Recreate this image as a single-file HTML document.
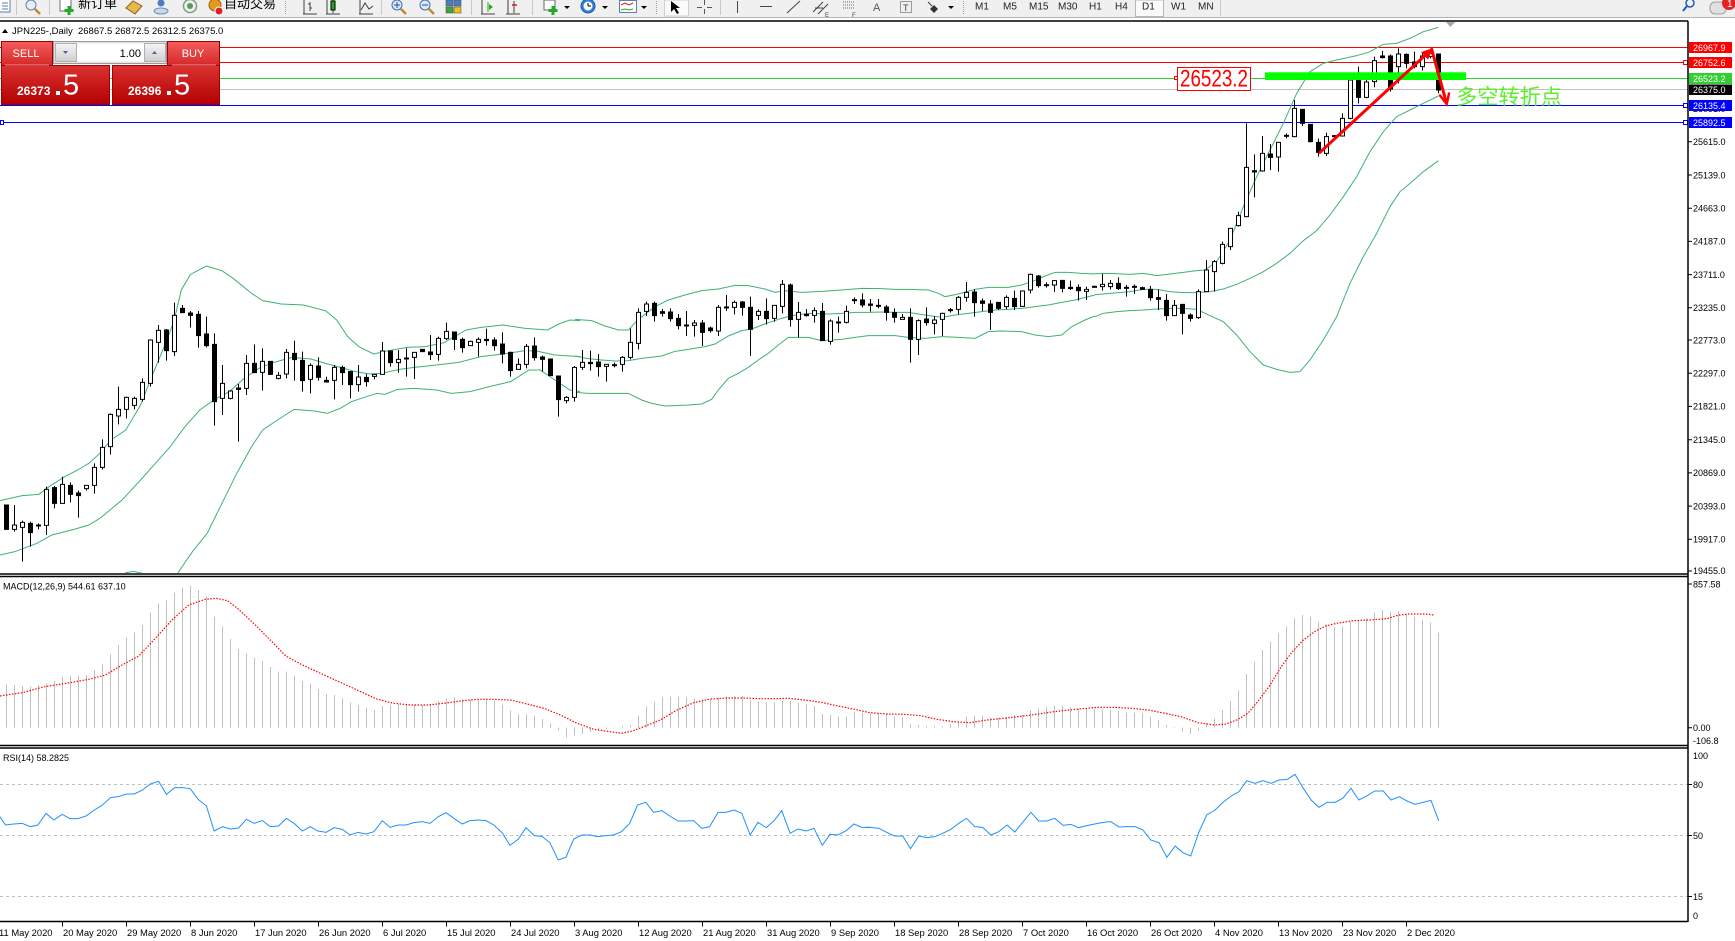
<!DOCTYPE html>
<html><head><meta charset="utf-8"><style>
html,body{margin:0;padding:0;background:#fff;overflow:hidden}
svg{display:block}
.t{font-family:"Liberation Sans",Arial,sans-serif}
.cj{font-family:"Liberation Sans","Noto Sans CJK SC","WenQuanYi Zen Hei",sans-serif}
.ns{vector-effect:non-scaling-stroke}
.cd path{stroke:#000;stroke-width:1;fill:none;vector-effect:non-scaling-stroke}
.cd rect{stroke:#000;stroke-width:1;vector-effect:non-scaling-stroke}
.cd .w{fill:#fff}.cd .b{fill:#000}
</style></head><body>
<svg width="1735" height="941" viewBox="0 0 1735 941" xmlns="http://www.w3.org/2000/svg">
<defs>
<clipPath id="cm"><rect x="0" y="22" width="1688" height="551"/></clipPath>
<clipPath id="cmacd"><rect x="0" y="577" width="1688" height="168"/></clipPath>
<clipPath id="crsi"><rect x="0" y="749" width="1688" height="172"/></clipPath>
<linearGradient id="gb" x1="0" y1="0" x2="0" y2="1"><stop offset="0" stop-color="#f45c5c"/><stop offset="1" stop-color="#d62828"/></linearGradient>
<linearGradient id="gp" x1="0" y1="0" x2="0" y2="1"><stop offset="0" stop-color="#dc3232"/><stop offset="1" stop-color="#b20000"/></linearGradient>
<linearGradient id="gg" x1="0" y1="0" x2="0" y2="1"><stop offset="0" stop-color="#f4f4f4"/><stop offset="1" stop-color="#cfcfcf"/></linearGradient>
</defs>
<rect width="1735" height="941" fill="#fff"/>

<!-- toolbar -->
<g>
<rect x="0" y="0" width="1735" height="17" fill="#f0f0f0"/>
<line x1="0" y1="17.5" x2="1735" y2="17.5" stroke="#b4b4b4"/>
<rect x="-1" y="-1" width="11" height="13" fill="#fff" stroke="#5a7fb0"/>
<path d="M2 3h6M2 6h6M2 9h6" stroke="#5a7fb0"/>
<line x1="16.5" y1="0" x2="16.5" y2="15" stroke="#c8c8c8"/>
<circle cx="31" cy="5" r="5" fill="#e6eef8" stroke="#6a7f9a"/><line x1="35" y1="9" x2="40" y2="14" stroke="#c08a30" stroke-width="2.5"/>
<line x1="49.5" y1="0" x2="49.5" y2="15" stroke="#c8c8c8"/>
<rect x="60" y="-1" width="11" height="12" fill="#fff" stroke="#707070"/><path d="M69 6v9M64.5 10.5h9" stroke="#22aa22" stroke-width="3"/>
<text class="cj" x="78" y="8" font-size="13" fill="#000">新订单</text>
<polygon points="126,8 133,1 142,6 135,14" fill="#e8b848" stroke="#8a6418"/>
<circle cx="161" cy="3" r="3.5" fill="#4a7ec0"/><ellipse cx="161" cy="11" rx="7" ry="3" fill="#c9d9ea" stroke="#6f8fb5"/>
<circle cx="190" cy="6" r="6.5" fill="none" stroke="#7aa07a" stroke-width="1.5"/><circle cx="190" cy="6" r="3" fill="#5a9a5a"/>
<circle cx="215" cy="5" r="6" fill="#e09a20" stroke="#a06010"/><circle cx="219" cy="11" r="4" fill="#e02020" stroke="#fff"/>
<text class="cj" x="224" y="8" font-size="13" fill="#000">自动交易</text>
<line x1="285.5" y1="1" x2="285.5" y2="15" stroke="#a0a0a0" stroke-dasharray="1 1"/>
<path d="M303 14h14M304 0v14M310 2v9M308 4h2M310 8h2" stroke="#404040" fill="none"/>
<path d="M326 14h14M327 0v14M333 0v13" stroke="#404040" fill="none"/><rect x="331" y="1" width="4" height="9" fill="#2a2" stroke="#000"/>
<path d="M359 14h14M360 0v14M361 10L365 3L369 9L373 6" stroke="#404040" fill="none"/>
<line x1="381.5" y1="0" x2="381.5" y2="15" stroke="#c8c8c8"/>
<circle cx="397" cy="5" r="5" fill="#dde9f7" stroke="#4070b0"/><path d="M394 5h6M397 2v6" stroke="#2050a0"/><path d="M401 9l5 5" stroke="#c08a30" stroke-width="2.5"/>
<circle cx="425" cy="5" r="5" fill="#dde9f7" stroke="#4070b0"/><path d="M422 5h6" stroke="#2050a0"/><path d="M429 9l5 5" stroke="#c08a30" stroke-width="2.5"/>
<rect x="446" y="0" width="7" height="6" fill="#4a7ec0" stroke="#555" stroke-width=".6"/><rect x="454" y="0" width="7" height="6" fill="#4a7ec0" stroke="#555" stroke-width=".6"/><rect x="446" y="7" width="7" height="6" fill="#38a838" stroke="#555" stroke-width=".6"/><rect x="454" y="7" width="7" height="6" fill="#f0c020" stroke="#555" stroke-width=".6"/>
<line x1="471.5" y1="0" x2="471.5" y2="15" stroke="#c8c8c8"/>
<path d="M481 14h14M482 0v14" stroke="#404040" fill="none"/><path d="M489 4l4 3l-4 3z" fill="#2a2"/><path d="M488 2v10" stroke="#2a2"/>
<path d="M506 14h14M508 0v14M514 1v12" stroke="#404040" fill="none"/><path d="M512 5h5" stroke="#d02020" stroke-width="1.5"/>
<line x1="532.5" y1="0" x2="532.5" y2="15" stroke="#c8c8c8"/>
<rect x="544" y="0" width="11" height="10" fill="#fff" stroke="#666"/><path d="M553 6v9M548.5 10.5h9" stroke="#2a2" stroke-width="3"/>
<polygon points="564,6 570,6 567,9" fill="#000"/>
<circle cx="588" cy="6" r="7" fill="#2f7fd8" stroke="#1a5aa8"/><circle cx="588" cy="6" r="4.5" fill="#fff"/><path d="M588 6V3M588 6h3" stroke="#000"/>
<polygon points="602,6 608,6 605,9" fill="#000"/>
<rect x="619.5" y="0.5" width="17" height="12" fill="#fff" stroke="#5a7fb0"/><path d="M621 5l4-2 4 2 4-2" stroke="#d02020" fill="none"/><path d="M621 10l4-1 4 1 4-1" stroke="#2a2" fill="none"/>
<polygon points="641,6 647,6 644,9" fill="#000"/>
<line x1="656.5" y1="1" x2="656.5" y2="15" stroke="#a0a0a0" stroke-dasharray="1 1"/>
<rect x="664.5" y="0" width="24" height="16" fill="#fafafa" stroke="#d0d0d0"/>
<polygon points="671,1 671,12 674,9 677,14 679,13 676,8 680,8" fill="#000"/>
<path d="M704.5 0v5M704.5 9v5M697 7.5h5M707 7.5h5" stroke="#555"/>
<line x1="720.5" y1="0" x2="720.5" y2="15" stroke="#c8c8c8"/>
<path d="M737.5 1v12" stroke="#444"/>
<path d="M760 6.5h12" stroke="#444"/>
<path d="M787 13L800 1" stroke="#444"/>
<path d="M813 12L823 2M818 14L828 4M815 8h8" stroke="#444"/><text class="t" x="825" y="17" font-size="6" fill="#444">E</text>
<path d="M843 2h12M843 5h12M843 8h12" stroke="#666" stroke-dasharray="1 1"/><text class="t" x="852" y="17" font-size="6" fill="#444">F</text>
<text class="t" x="873" y="11" font-size="11" fill="#555">A</text>
<rect x="900.5" y="1.5" width="11" height="11" fill="none" stroke="#444" stroke-dasharray="1 1"/><text class="t" x="903" y="11" font-size="9" fill="#444">T</text>
<path d="M928 2l4 4" stroke="#333"/><polygon points="934,5 938,9 934,13 930,9" fill="#333"/>
<polygon points="948,6 954,6 951,9" fill="#000"/>
<line x1="963.5" y1="1" x2="963.5" y2="15" stroke="#a0a0a0" stroke-dasharray="1 1"/>
<rect x="1135.5" y="0" width="28" height="16.5" fill="#fafafa" stroke="#b8b8b8"/>
<g class="t" font-size="10" fill="#222">
<text x="975" y="9.5">M1</text><text x="1003" y="9.5">M5</text><text x="1029" y="9.5">M15</text><text x="1058" y="9.5">M30</text><text x="1089" y="9.5">H1</text><text x="1115" y="9.5">H4</text><text x="1142" y="9.5">D1</text><text x="1171" y="9.5">W1</text><text x="1198" y="9.5">MN</text>
</g>
<line x1="1220.5" y1="0" x2="1220.5" y2="16" stroke="#c8c8c8"/>
<circle cx="1690" cy="3" r="4" fill="none" stroke="#1f5fb8" stroke-width="1.5"/><line x1="1687" y1="6" x2="1683" y2="11" stroke="#1f5fb8" stroke-width="2"/>
<rect x="1710" y="2" width="16" height="12" rx="5" fill="#e0e0e0" stroke="#a0a0a0"/>
<circle cx="1729" cy="3" r="7" fill="#e42222"/><text class="t" x="1727" y="7" font-size="10" fill="#fff">1</text>
</g>

<!-- frame lines -->
<line x1="0" y1="21" x2="1688" y2="21" stroke="#000" stroke-width="1.5"/>

<!-- main chart -->
<g clip-path="url(#cm)">
<line x1="0" y1="47.5" x2="1688" y2="47.5" stroke="#ff0000"/>
<line x1="0" y1="62.5" x2="1688" y2="62.5" stroke="#ff0000"/>
<line x1="0" y1="78.5" x2="1688" y2="78.5" stroke="#2fcf2f"/>
<line x1="0" y1="89.5" x2="1688" y2="89.5" stroke="#c0c0c0"/>
<line x1="0" y1="105.5" x2="1688" y2="105.5" stroke="#0000ff"/>
<line x1="0" y1="122.5" x2="1688" y2="122.5" stroke="#0000ff"/>
<rect x="1683.5" y="60.5" width="4" height="4" fill="#fff" stroke="#ff0000"/>
<rect x="1683.5" y="103.5" width="4" height="4" fill="#fff" stroke="#0000ff"/>
<rect x="1683.5" y="120.5" width="4" height="4" fill="#fff" stroke="#0000ff"/>
<rect x="0.5" y="120.5" width="3" height="4" fill="#fff" stroke="#0000ff"/>

<!-- bollinger bands -->
<g fill="none" stroke="#3cb371" stroke-width="1">
<g transform="translate(0,250) scale(0.36996,0.333333)">
<polyline class="ns" points="0,752 60,737 105,733 130,712 175,680 210,660 240,640 270,610 300,570 340,540 380,465 410,380 440,300 470,215 490,120 515,73 558,48 600,62 630,85 680,130 710,152 760,162 820,165 880,182 910,210 940,260 970,290 1010,312 1050,302 1100,292 1150,290 1200,278 1260,240 1300,232 1360,225 1420,235 1480,240 1510,222 1540,210 1568,212"/>
<polyline class="ns" points="0,915 40,905 100,880 140,855 200,838 240,825 270,805 330,750 380,690 420,640 460,590 500,530 540,480 580,448 620,425 660,385 700,355 740,337 790,322 840,327 880,340 920,352 960,365 1000,372 1030,370 1080,358 1120,352 1180,345 1240,337 1300,320 1360,312 1420,302 1450,303 1500,315 1568,320"/>
<polyline class="ns" points="300,1010 340,968 360,964 385,970 420,1000 470,990 480,970 520,905 560,850 600,760 640,670 680,590 710,540 750,510 795,478 850,483 885,490 920,475 950,455 990,440 1020,430 1040,433 1075,418 1120,415 1180,420 1220,430 1270,425 1330,408 1380,395 1430,360 1460,360 1500,390 1540,420 1568,425"/>
</g>
<g transform="translate(575,250) scale(0.333333)">
<polyline class="ns" points="0,208 50,212 90,228 130,240 160,240 190,208 240,170 280,150 330,135 380,122 430,117 480,106 520,107 570,117 600,127 630,122 680,127 740,124 800,120 860,115 920,116 960,118 1000,118 1060,120 1090,130 1110,140 1150,132 1200,118 1240,112 1300,112 1340,105 1370,95 1410,78 1440,67 1480,67 1520,70 1560,72"/>
<polyline class="ns" points="0,318 40,326 80,330 120,333 160,332 200,325 260,318 300,304 340,298 390,290 420,282 460,258 500,242 530,237 580,218 620,205 650,197 700,190 760,192 800,190 840,187 880,187 920,186 960,187 1000,187 1050,195 1100,202 1140,195 1180,190 1220,185 1260,180 1300,178 1340,175 1380,170 1420,165 1460,157 1500,150 1540,140 1560,135"/>
<polyline class="ns" points="0,427 40,430 160,430 200,450 230,460 270,468 300,467 340,465 380,462 410,448 430,420 460,385 490,370 520,352 550,330 580,310 610,285 640,262 700,262 740,272 800,268 840,262 880,257 960,257 1000,262 1050,265 1100,260 1150,262 1200,265 1240,245 1280,243 1340,245 1380,255 1420,260 1460,255 1490,230 1530,210 1560,198"/>
</g>
<g transform="translate(1090,20) scale(0.333333)">
<polyline class="ns" points="15,761 60,760 120,763 160,760 200,767 240,762 280,757 320,752 345,750 380,725 420,660 460,560 500,470 540,390 580,310 620,220 660,155 700,130 740,120 800,107 840,95 880,73 920,70 960,55 1000,35 1045,22"/>
<polyline class="ns" points="15,824 60,820 120,815 160,808 200,808 240,815 280,818 320,818 360,815 400,807 440,793 480,775 520,755 560,730 600,700 640,662 680,632 720,585 760,530 800,470 840,395 880,335 920,290 960,270 1000,250 1045,228"/>
<polyline class="ns" points="15,890 40,880 80,875 120,872 160,870 200,867 240,865 280,865 320,868 360,887 400,905 440,945 480,995 520,1035 560,1048 600,1057 630,1055 660,1020 700,960 740,890 780,790 820,710 860,640 900,560 930,515 960,490 1000,455 1045,422"/>
</g>
</g>

<!-- candles group A -->
<g class="cd" transform="translate(6.5,250) scale(8,0.333333)">
<path d="M0 765V838"/><rect class="b" x="-.25" y="765" width=".5" height="73"/>
<path d="M1 765V845"/><rect class="w" x=".75" y="825" width=".5" height="13"/>
<path d="M2 812V935"/><rect class="w" x="1.75" y="817" width=".5" height="15"/>
<path d="M3 815V890"/><rect class="b" x="2.75" y="820" width=".5" height="28"/>
<path d="M4 820V838"/><rect class="w" x="3.75" y="825" width=".5" height="3"/>
<path d="M5 710V855"/><rect class="w" x="4.75" y="718" width=".5" height="108"/>
<path d="M6 708V775"/><rect class="b" x="5.75" y="713" width=".5" height="47"/>
<path d="M7 680V760"/><rect class="w" x="6.75" y="703" width=".5" height="57"/>
<path d="M8 697V757"/><rect class="b" x="7.75" y="706" width=".5" height="27"/>
<path d="M9 722V803"/><rect class="b" x="8.75" y="729" width=".5" height="8"/>
<path d="M10 706V722"/><rect class="w" x="9.75" y="706" width=".5" height="10"/>
<path d="M11 640V731"/><rect class="w" x="10.75" y="652" width=".5" height="54"/>
<path d="M12 568V658"/><rect class="w" x="11.75" y="592" width=".5" height="60"/>
<path d="M13 490V614"/><rect class="w" x="12.75" y="493" width=".5" height="97"/>
<path d="M14 410V523"/><rect class="w" x="13.75" y="478" width=".5" height="20"/>
<path d="M15 440V505"/><rect class="w" x="14.75" y="442" width=".5" height="36"/>
<path d="M16 440V478"/><rect class="w" x="15.75" y="445" width=".5" height="21"/>
<path d="M17 385V455"/><rect class="w" x="16.75" y="397" width=".5" height="51"/>
<path d="M18 268V410"/><rect class="w" x="17.75" y="270" width=".5" height="130"/>
<path d="M19 225V338"/><rect class="w" x="18.75" y="241" width=".5" height="36"/>
<path d="M20 237V332"/><rect class="b" x="19.75" y="240" width=".5" height="62"/>
<path d="M21 158V318"/><rect class="w" x="20.75" y="196" width=".5" height="109"/>
<path d="M22 165V188"/><rect class="b" x="21.75" y="175" width=".5" height="13"/>
<path d="M23 183V233"/><rect class="b" x="22.75" y="189" width=".5" height="7"/>
<path d="M24 183V293"/><rect class="b" x="23.75" y="193" width=".5" height="64"/>
<path d="M25 200V292"/><rect class="b" x="24.75" y="252" width=".5" height="35"/>
<path d="M26 250V527"/><rect class="b" x="25.75" y="283" width=".5" height="172"/>
<path d="M27 345V495"/><rect class="w" x="26.75" y="400" width=".5" height="45"/>
<path d="M28 420V448"/><rect class="w" x="27.75" y="423" width=".5" height="22"/>
<path d="M29 402V575"/><rect class="b" x="28.75" y="414" width=".5" height="4"/>
<path d="M30 315V435"/><rect class="w" x="29.75" y="340" width=".5" height="75"/>
<path d="M31 283V368"/><rect class="b" x="30.75" y="340" width=".5" height="28"/>
<path d="M32 295V422"/><rect class="w" x="31.75" y="334" width=".5" height="33"/>
<path d="M33 334V375"/><rect class="b" x="32.75" y="334" width=".5" height="39"/>
<path d="M34 366V388"/><rect class="w" x="33.75" y="376" width=".5" height="9"/>
<path d="M35 297V385"/><rect class="w" x="34.75" y="307" width=".5" height="65"/>
<path d="M36 272V392"/><rect class="b" x="35.75" y="310" width=".5" height="19"/>
<path d="M37 305V425"/><rect class="b" x="36.75" y="331" width=".5" height="61"/>
<path d="M38 340V430"/><rect class="w" x="37.75" y="346" width=".5" height="42"/>
<path d="M39 322V392"/><rect class="b" x="38.75" y="348" width=".5" height="34"/>
<path d="M40 380V398"/><rect class="b" x="39.75" y="391" width=".5" height="5"/>
<path d="M41 345V448"/><rect class="w" x="40.75" y="352" width=".5" height="39"/>
<path d="M42 347V405"/><rect class="b" x="41.75" y="352" width=".5" height="16"/>
<path d="M43 365V445"/><rect class="b" x="42.75" y="365" width=".5" height="39"/>
<path d="M44 345V425"/><rect class="w" x="43.75" y="381" width=".5" height="23"/>
<path d="M45 372V410"/><rect class="b" x="44.75" y="382" width=".5" height="13"/>
<path d="M46 372V388"/><rect class="w" x="45.75" y="373" width=".5" height="6"/>
<path d="M47 276V373"/><rect class="w" x="46.75" y="303" width=".5" height="70"/>
<path d="M48 301V350"/><rect class="b" x="47.75" y="303" width=".5" height="35"/>
<path d="M49 300V368"/><rect class="w" x="48.75" y="328" width=".5" height="10"/>
<path d="M50 295V380"/><rect class="w" x="49.75" y="324" width=".5" height="3"/>
<path d="M51 307V387"/><rect class="w" x="50.75" y="307" width=".5" height="15"/>
<path d="M52 298V305"/><rect class="b" x="51.75" y="298" width=".5" height="7"/>
<path d="M53 255V330"/><rect class="b" x="52.75" y="306" width=".5" height="8"/>
<path d="M54 260V332"/><rect class="w" x="53.75" y="265" width=".5" height="48"/>
<path d="M55 218V270"/><rect class="w" x="54.75" y="244" width=".5" height="22"/>
<path d="M56 246V300"/><rect class="b" x="55.75" y="246" width=".5" height="22"/>
<path d="M57 263V308"/><rect class="b" x="56.75" y="268" width=".5" height="25"/>
<path d="M58 272V287"/><rect class="w" x="57.75" y="274" width=".5" height="13"/>
<path d="M59 262V320"/><rect class="w" x="58.75" y="268" width=".5" height="9"/>
<path d="M60 236V287"/><rect class="b" x="59.75" y="268" width=".5" height="4"/>
<path d="M61 262V302"/><rect class="b" x="60.75" y="270" width=".5" height="17"/>
<path d="M62 247V340"/><rect class="b" x="61.75" y="282" width=".5" height="30"/>
<path d="M63 305V380"/><rect class="b" x="62.75" y="307" width=".5" height="55"/>
<path d="M64 325V358"/><rect class="w" x="63.75" y="343" width=".5" height="15"/>
<path d="M65 282V355"/><rect class="w" x="64.75" y="289" width=".5" height="54"/>
<path d="M66 262V332"/><rect class="b" x="65.75" y="288" width=".5" height="35"/>
<path d="M67 317V365"/><rect class="b" x="66.75" y="321" width=".5" height="7"/>
<path d="M68 327V377"/><rect class="b" x="67.75" y="327" width=".5" height="50"/>
<path d="M69 378V500"/><rect class="b" x="68.75" y="378" width=".5" height="71"/>
<path d="M70 438V460"/><rect class="w" x="69.75" y="442" width=".5" height="10"/>
<path d="M71 348V455"/><rect class="w" x="70.75" y="352" width=".5" height="90"/>
<path d="M72 300V360"/><rect class="w" x="71.75" y="337" width=".5" height="15"/>
<path d="M73 302V362"/><rect class="b" x="72.75" y="337" width=".5" height="4"/>
<path d="M74 312V380"/><rect class="b" x="73.75" y="336" width=".5" height="14"/>
<path d="M75 343V395"/><rect class="w" x="74.75" y="343" width=".5" height="6"/>
<path d="M76 338V352"/><rect class="w" x="75.75" y="344" width=".5" height="3"/>
<path d="M77 318V365"/><rect class="w" x="76.75" y="322" width=".5" height="21"/>
<path d="M78 235V328"/><rect class="w" x="77.75" y="277" width=".5" height="45"/>
<path d="M79 175V298"/><rect class="w" x="78.75" y="187" width=".5" height="93"/>
<path d="M80 155V198"/><rect class="w" x="79.75" y="162" width=".5" height="22"/>
<path d="M81 155V215"/><rect class="b" x="80.75" y="160" width=".5" height="37"/>
<path d="M82 177V200"/><rect class="b" x="81.75" y="185" width=".5" height="5"/>
<path d="M83 175V215"/><rect class="b" x="82.75" y="186" width=".5" height="20"/>
<path d="M84 192V238"/><rect class="b" x="83.75" y="205" width=".5" height="22"/>
<path d="M85 183V258"/><rect class="b" x="84.75" y="225" width=".5" height="3"/>
<path d="M86 210V260"/><rect class="w" x="85.75" y="219" width=".5" height="7"/>
<path d="M87 210V288"/><rect class="b" x="86.75" y="219" width=".5" height="28"/>
<path d="M88 230V248"/><rect class="b" x="87.75" y="234" width=".5" height="8"/>
<path d="M89 165V258"/><rect class="w" x="88.75" y="172" width=".5" height="71"/>
<path d="M90 135V183"/><rect class="w" x="89.75" y="171" width=".5" height="3"/>
<path d="M91 152V193"/><rect class="w" x="90.75" y="157" width=".5" height="15"/>
<path d="M92 153V197"/><rect class="b" x="91.75" y="156" width=".5" height="16"/>
<path d="M93 140V318"/><rect class="b" x="92.75" y="172" width=".5" height="66"/>
<path d="M94 178V210"/><rect class="w" x="93.75" y="184" width=".5" height="12"/>
<path d="M95 145V223"/><rect class="b" x="94.75" y="184" width=".5" height="22"/>
<path d="M96 165V215"/><rect class="w" x="95.75" y="166" width=".5" height="39"/>
<path d="M97 90V190"/><rect class="w" x="96.75" y="103" width=".5" height="66"/>
<path d="M98 100V230"/><rect class="b" x="97.75" y="105" width=".5" height="104"/>
<path d="M99 156V262"/><rect class="w" x="98.75" y="187" width=".5" height="21"/>
<path d="M100 177V200"/><rect class="b" x="99.75" y="193" width=".5" height="4"/>
<path d="M101 172V218"/><rect class="w" x="100.75" y="182" width=".5" height="14"/>
<path d="M102 159V272"/><rect class="b" x="101.75" y="184" width=".5" height="88"/>
<path d="M103 208V284"/><rect class="w" x="102.75" y="213" width=".5" height="61"/>
<path d="M104 200V248"/><rect class="b" x="103.75" y="216" width=".5" height="3"/>
<path d="M105 167V220"/><rect class="w" x="104.75" y="184" width=".5" height="33"/>
<path d="M106 142V162"/><rect class="w" x="105.75" y="149" width=".5" height="3"/>
<path d="M107 130V172"/><rect class="b" x="106.75" y="150" width=".5" height="15"/>
<path d="M108 147V185"/><rect class="b" x="107.75" y="162" width=".5" height="4"/>
<path d="M109 147V175"/><rect class="b" x="108.75" y="166" width=".5" height="3"/>
<path d="M110 165V212"/><rect class="b" x="109.75" y="171" width=".5" height="16"/>
<path d="M111 175V218"/><rect class="b" x="110.75" y="188" width=".5" height="14"/>
<path d="M112 192V208"/><rect class="w" x="111.75" y="202" width=".5" height="6"/>
<path d="M113 175V338"/><rect class="b" x="112.75" y="202" width=".5" height="66"/>
<path d="M114 208V315"/><rect class="w" x="113.75" y="212" width=".5" height="56"/>
<path d="M115 172V227"/><rect class="b" x="114.75" y="207" width=".5" height="11"/>
<path d="M116 198V253"/><rect class="w" x="115.75" y="210" width=".5" height="10"/>
<path d="M117 188V258"/><rect class="w" x="116.75" y="190" width=".5" height="18"/>
<path d="M118 174V188"/><rect class="w" x="117.75" y="179" width=".5" height="3"/>
<path d="M119 138V193"/><rect class="w" x="118.75" y="142" width=".5" height="36"/>
<path d="M120 96V155"/><rect class="w" x="119.75" y="127" width=".5" height="15"/>
<path d="M121 118V200"/><rect class="b" x="120.75" y="126" width=".5" height="32"/>
<path d="M122 145V183"/><rect class="b" x="121.75" y="153" width=".5" height="7"/>
<path d="M123 150V240"/><rect class="b" x="122.75" y="162" width=".5" height="25"/>
<path d="M124 157V180"/><rect class="b" x="123.75" y="157" width=".5" height="18"/>
<path d="M125 136V178"/><rect class="w" x="124.75" y="142" width=".5" height="28"/>
<path d="M126 122V180"/><rect class="b" x="125.75" y="145" width=".5" height="25"/>
<path d="M127 121V170"/><rect class="w" x="126.75" y="123" width=".5" height="46"/>
<path d="M128 71V130"/><rect class="w" x="127.75" y="73" width=".5" height="47"/>
<path d="M129 75V113"/><rect class="b" x="128.75" y="78" width=".5" height="29"/>
<path d="M130 97V113"/><rect class="w" x="129.75" y="104" width=".5" height="3"/>
<path d="M131 90V126"/><rect class="w" x="130.75" y="92" width=".5" height="13"/>
<path d="M132 90V127"/><rect class="b" x="131.75" y="91" width=".5" height="24"/>
<path d="M133 92V120"/><rect class="b" x="132.75" y="112" width=".5" height="4"/>
<path d="M134 103V152"/><rect class="b" x="133.75" y="112" width=".5" height="10"/>
<path d="M135 110V150"/><rect class="w" x="134.75" y="118" width=".5" height="6"/>
</g>
<!-- candles group B -->
<g class="cd" transform="translate(6.5,20) scale(8,0.333333)">
<path d="M136 797V803"/><rect class="b" x="135.75" y="799" width=".5" height="3"/>
<path d="M137 762V812"/><rect class="w" x="136.75" y="793" width=".5" height="7"/>
<path d="M138 780V808"/><rect class="w" x="137.75" y="790" width=".5" height="10"/>
<path d="M139 772V810"/><rect class="b" x="138.75" y="790" width=".5" height="16"/>
<path d="M140 795V830"/><rect class="w" x="139.75" y="802" width=".5" height="3"/>
<path d="M141 793V822"/><rect class="w" x="140.75" y="799" width=".5" height="3"/>
<path d="M142 800V810"/><rect class="b" x="141.75" y="803" width=".5" height="5"/>
<path d="M143 798V842"/><rect class="b" x="142.75" y="808" width=".5" height="25"/>
<path d="M144 808V870"/><rect class="b" x="143.75" y="833" width=".5" height="5"/>
<path d="M145 822V902"/><rect class="b" x="144.75" y="841" width=".5" height="46"/>
<path d="M146 840V887"/><rect class="w" x="145.75" y="856" width=".5" height="31"/>
<path d="M147 853V943"/><rect class="b" x="146.75" y="853" width=".5" height="27"/>
<path d="M148 880V905"/><rect class="b" x="147.75" y="885" width=".5" height="10"/>
<path d="M149 808V897"/><rect class="w" x="148.75" y="815" width=".5" height="78"/>
<path d="M150 720V815"/><rect class="w" x="149.75" y="750" width=".5" height="65"/>
<path d="M151 720V815"/><rect class="w" x="150.75" y="725" width=".5" height="30"/>
<path d="M152 665V733"/><rect class="w" x="151.75" y="673" width=".5" height="57"/>
<path d="M153 625V690"/><rect class="w" x="152.75" y="625" width=".5" height="55"/>
<path d="M154 575V620"/><rect class="w" x="153.75" y="587" width=".5" height="30"/>
<path d="M155 310V592"/><rect class="w" x="154.75" y="442" width=".5" height="148"/>
<path d="M156 403V532"/><rect class="b" x="155.75" y="452" width=".5" height="4"/>
<path d="M157 348V455"/><rect class="w" x="156.75" y="400" width=".5" height="53"/>
<path d="M158 372V450"/><rect class="b" x="157.75" y="402" width=".5" height="10"/>
<path d="M159 367V455"/><rect class="w" x="158.75" y="367" width=".5" height="44"/>
<path d="M160 340V355"/><rect class="b" x="159.75" y="346" width=".5" height="3"/>
<path d="M161 240V352"/><rect class="w" x="160.75" y="265" width=".5" height="85"/>
<path d="M162 268V318"/><rect class="b" x="161.75" y="268" width=".5" height="42"/>
<path d="M163 313V367"/><rect class="b" x="162.75" y="313" width=".5" height="52"/>
<path d="M164 356V410"/><rect class="b" x="163.75" y="367" width=".5" height="30"/>
<path d="M165 338V408"/><rect class="w" x="164.75" y="350" width=".5" height="50"/>
<path d="M166 345V355"/><rect class="w" x="165.75" y="347" width=".5" height="3"/>
<path d="M167 280V350"/><rect class="w" x="166.75" y="295" width=".5" height="53"/>
<path d="M168 180V298"/><rect class="w" x="167.75" y="180" width=".5" height="115"/>
<path d="M169 140V250"/><rect class="b" x="168.75" y="180" width=".5" height="52"/>
<path d="M170 180V235"/><rect class="w" x="169.75" y="186" width=".5" height="46"/>
<path d="M171 110V202"/><rect class="w" x="170.75" y="122" width=".5" height="63"/>
<path d="M172 93V115"/><rect class="b" x="171.75" y="108" width=".5" height="5"/>
<path d="M173 103V215"/><rect class="b" x="172.75" y="108" width=".5" height="99"/>
<path d="M174 85V190"/><rect class="w" x="173.75" y="102" width=".5" height="38"/>
<path d="M175 100V145"/><rect class="b" x="174.75" y="103" width=".5" height="27"/>
<path d="M176 95V145"/><rect class="b" x="175.75" y="126" width=".5" height="14"/>
<path d="M177 98V152"/><rect class="w" x="176.75" y="108" width=".5" height="32"/>
<path d="M178 92V115"/><rect class="w" x="177.75" y="100" width=".5" height="10"/>
<path d="M179 102V220"/><rect class="b" x="178.75" y="102" width=".5" height="108"/>
</g>

<!-- objects -->
<rect x="1265" y="72.3" width="201" height="7.7" fill="#00ff00"/>
<rect x="1174.5" y="76.5" width="3" height="3" fill="#fff" stroke="#ff0000"/>
<rect x="1177.5" y="67.5" width="73" height="23" fill="#fff" stroke="#ff0000"/>
<text class="t" x="1180" y="86.7" font-size="24" fill="#ff0000" textLength="68" lengthAdjust="spacingAndGlyphs">26523.2</text>
<text class="cj" x="1456" y="104" font-size="21" fill="#5cef2a" textLength="106" lengthAdjust="spacingAndGlyphs">多空转折点</text>
<g stroke="#ff0000" stroke-width="3" fill="#ff0000" stroke-linecap="round">
<line x1="1320" y1="152.3" x2="1429" y2="51.8"/>
<line x1="1431.7" y1="49.3" x2="1445.5" y2="99.5"/>
<polygon points="1431.7,49.3 1427.8,58.3 1422.4,52.5" stroke-width="1.5"/>
<polyline points="1440,95.5 1446.7,104 1449,93.5" fill="none" stroke-width="2.5"/>
</g>
<polygon points="1446,22 1455,22 1450.5,27" fill="#a8a8a8"/>

<!-- title -->
<polygon points="2,33 8,33 5,29" fill="#000"/>
<text class="t" x="12" y="34" font-size="9.5" fill="#000" xml:space="preserve">JPN225-,Daily  26867.5 26872.5 26312.5 26375.0</text>

<!-- one click panel -->
<rect x="1.5" y="41.5" width="51" height="24" fill="url(#gb)" stroke="#a00000"/>
<rect x="167.5" y="41.5" width="52" height="24" fill="url(#gb)" stroke="#a00000"/>
<rect x="53.5" y="41.5" width="113" height="22" fill="#e4e4e4" stroke="#9a9a9a"/>
<rect x="55.5" y="43.5" width="21" height="18" fill="url(#gg)" stroke="#b0b0b0"/>
<rect x="77" y="43.5" width="67" height="18" fill="#fff"/>
<rect x="144.5" y="43.5" width="21" height="18" fill="url(#gg)" stroke="#b0b0b0"/>
<polygon points="63,51 68,51 65.5,54" fill="#4a62a8"/>
<polygon points="152,54 157,54 154.5,51" fill="#4a62a8"/>
<text class="t" x="141" y="57" font-size="11" fill="#000" text-anchor="end">1.00</text>
<text class="t" x="26" y="57" font-size="11" fill="#fff" text-anchor="middle">SELL</text>
<text class="t" x="193" y="57" font-size="11" fill="#fff" text-anchor="middle">BUY</text>
<rect x="1.5" y="65.5" width="108" height="39" fill="url(#gp)" stroke="#a00000"/>
<rect x="112.5" y="65.5" width="107" height="39" fill="url(#gp)" stroke="#a00000"/>
<line x1="5" y1="65" x2="49" y2="65" stroke="#f59090"/>
<line x1="172" y1="65" x2="216" y2="65" stroke="#f59090"/>
<text class="t" x="17" y="95" font-size="12" font-weight="bold" fill="#fff">26373</text>
<rect x="56" y="91" width="4" height="4" fill="#fff"/>
<text class="t" x="63" y="94.5" font-size="29" fill="#fff">5</text>
<text class="t" x="128" y="95" font-size="12" font-weight="bold" fill="#fff">26396</text>
<rect x="167" y="91" width="4" height="4" fill="#fff"/>
<text class="t" x="174" y="94.5" font-size="29" fill="#fff">5</text>
</g>

<!-- MACD -->
<g clip-path="url(#cmacd)">
<g transform="translate(6.5,570) scale(8,0.333333)">
<path class="ns" fill="none" stroke="#c0c0c0" stroke-width="1" d="M0 473V343M1 473V345M2 473V348M3 473V350M4 473V345M5 473V340M6 473V333M7 473V320M8 473V318M9 473V317M10 473V315M11 473V300M12 473V283M13 473V253M14 473V225M15 473V202M16 473V187M17 473V165M18 473V128M19 473V100M20 473V90M21 473V68M22 473V53M23 473V47M24 473V60M25 473V80M26 473V140M27 473V170M28 473V207M29 473V237M30 473V250M31 473V263M32 473V273M33 473V291M34 473V305M35 473V305M36 473V318M37 473V333M38 473V341M39 473V357M40 473V372M41 473V375M42 473V385M43 473V398M44 473V405M45 473V413M46 473V420M47 473V408M48 473V406M49 473V403M50 473V405M51 473V403M52 473V405M53 473V405M54 473V393M55 473V385M56 473V382M57 473V388M58 473V388M59 473V388M60 473V390M61 473V391M62 473V404M63 473V422M64 473V433M65 473V433M66 473V437M67 473V447M68 473V460M69 473V482M70 473V503M71 473V497M72 473V492M73 473V486M74 473V482M75 473V478M76 473V474M77 473V468M78 473V465M79 473V437M80 473V410M81 473V395M82 473V382M83 473V380M84 473V380M85 473V382M86 473V385M87 473V388M88 473V388M89 473V383M90 473V380M91 473V378M92 473V378M93 473V390M94 473V395M95 473V397M96 473V397M97 473V393M98 473V392M99 473V398M100 473V402M101 473V408M102 473V432M103 473V435M104 473V440M105 473V440M106 473V425M107 473V428M108 473V430M109 473V430M110 473V430M111 473V440M112 473V442M113 473V462M114 473V465M115 473V468M116 473V468M117 473V468M118 473V462M119 473V455M120 473V440M121 473V437M122 473V437M123 473V443M124 473V443M125 473V440M126 473V435M127 473V435M128 473V420M129 473V415M130 473V410M131 473V408M132 473V408M133 473V412M134 473V415M135 473V415M136 473V418M137 473V418M138 473V420M139 473V422M140 473V428M141 473V428M142 473V430M143 473V440M144 473V450M145 473V465M146 473V471M147 473V485M148 473V492M149 473V483M150 473V460M151 473V445M152 473V420M153 473V393M154 473V362M155 473V312M156 473V275M157 473V240M158 473V215M159 473V190M160 473V170M161 473V145M162 473V135M163 473V140M164 473V155M165 473V163M166 473V170M167 473V170M168 473V155M169 473V152M170 473V145M171 473V128M172 473V120M173 473V125M174 473V125M175 473V133M176 473V140M177 473V150M178 473V158M179 473V188"/>
</g>
<polyline fill="none" stroke="#ff0000" stroke-width="1.2" stroke-dasharray="1.5 1.5" points="0,696 22.2,692.7 44.4,686.7 66.6,683.3 88.8,679.3 105.4,675 122.1,665 138.7,656 155.4,638.3 172,620 188.7,605 205.3,599.3 216.4,598.3 227.5,600.7 238.6,609.3 255.3,625 271.9,641.7 285.8,656 302.4,665 321.9,674 344.1,684 360.7,691.7 377.4,699.3 394,703.3 410.7,705 427.3,705 444,703.3 460.6,701 477.2,699.3 493.9,699.3 510.5,700 527.2,704 543.8,708.3 560.5,715 577.1,723.3 593.8,729.3 610.4,731.7 621.5,733.3 632.6,731 643.7,726.7 660.4,720 677,710 693.7,702.7 710.3,699 727,698 743.6,698 760.3,698.7 776.9,698.7 788,698.3 804.7,700 821.3,702.3 838,706 854.6,709.3 870.1,712.7 887.2,714 903.8,714.3 920.5,715.7 937.1,719.3 953.8,721.7 970.4,722.7 987.1,720 1009.3,717.7 1031.5,715 1053.7,711.7 1075.9,709.3 1098.1,707.3 1114.7,707.3 1131.4,708.3 1148,710 1164.7,713.3 1181.3,716.7 1198,722.7 1214.6,725 1225.7,724 1236.8,720 1247.9,713.3 1259,700 1270.1,685 1281.2,666.7 1292.3,651.7 1303.4,640 1314.5,631.7 1325.6,626 1336.7,623.3 1353.3,620.7 1370,620 1386.6,618.7 1397.7,615.3 1408.8,614 1425.5,614 1433.8,615"/>
</g>
<text class="t" x="3" y="589.5" font-size="9" fill="#000">MACD(12,26,9) 544.61 637.10</text>

<!-- RSI -->
<g clip-path="url(#crsi)">
<g stroke="#c0c0c0" stroke-width="1" stroke-dasharray="3 3">
<line x1="0" y1="784.5" x2="1688" y2="784.5"/>
<line x1="0" y1="835.5" x2="1688" y2="835.5"/>
<line x1="0" y1="896.5" x2="1688" y2="896.5"/>
</g>
<g fill="none" stroke="#1e90ff" stroke-width="1">
<g transform="translate(0,570) scale(0.55485,0.333333)">
<polyline class="ns" points="0,740 10,765 25,762 40,760 55,770 68,765 83,730 97,750 112,733 126,746 140,746 155,738 170,720 184,706 199,683 213,680 228,672 242,672 257,660 271,642 286,634 300,673 315,653 329,653 343,656 357,688 372,708 386,783 401,770 415,777 430,774 444,748 458,760 473,752 487,770 502,768 516,745 530,760 545,783 559,770 573,783 588,787 602,773 617,778 631,795 645,787 660,792 674,785 689,752 703,772 718,765 732,765 746,758 761,755 775,760 790,740 804,728 818,745 833,762 847,752 862,750 876,752 890,765 905,788 919,826 934,808 948,773 963,797 977,799 991,818 1006,870 1020,862 1034,807 1049,795 1063,795 1077,800 1092,797 1106,795 1120,785 1135,760 1149,705 1164,697 1178,727 1193,722 1207,738 1222,753 1236,753 1250,752 1265,775 1279,770 1294,727 1308,727 1323,720 1337,730 1352,795 1366,757 1381,773 1395,752 1409,722 1424,790 1438,777 1453,783 1467,775 1482,826 1496,793 1510,795 1525,782 1539,762 1553,772 1568,772"/>
</g>
<g transform="translate(865,570) scale(0.55485,0.333333)">
<polyline class="ns" points="0,772 10,772 25,775 39,787 53,798 68,798 82,836 97,798 111,803 126,800 140,790 154,779 169,760 183,745 198,770 212,772 227,795 241,785 256,765 270,786 285,755 299,727 313,753 328,753 342,745 357,766 371,763 385,773 400,767 414,762 429,757 443,755 458,771 472,770 487,770 501,780 515,810 530,818 544,862 559,828 573,848 587,858 602,785 616,735 631,720 645,697 660,678 674,665 688,632 703,640 717,632 732,640 746,630 761,628 775,613 790,655 804,690 818,712 833,697 847,697 861,685 876,655 890,690 905,677 919,663 934,663 948,690 963,680 977,693 991,703 1006,697 1020,691 1034,752"/>
</g>
</g>
</g>
<text class="t" x="3" y="761" font-size="9" fill="#000">RSI(14) 58.2825</text>

<!-- panel borders -->
<g stroke="#000" stroke-width="1.5">
<line x1="0" y1="574" x2="1688" y2="574"/>
<line x1="0" y1="576.5" x2="1688" y2="576.5"/>
<line x1="0" y1="745.5" x2="1688" y2="745.5"/>
<line x1="0" y1="748" x2="1688" y2="748"/>
<line x1="0" y1="921.5" x2="1688" y2="921.5"/>
</g>
<line x1="1688" y1="21" x2="1688" y2="922" stroke="#000" stroke-width="1.5"/>

<!-- right axis main -->
<g stroke="#000" stroke-width="1">
<path d="M1688 141.8h4M1688 175h4M1688 208.2h4M1688 241.4h4M1688 274.6h4M1688 307.8h4M1688 340h4M1688 373.2h4M1688 406.4h4M1688 439.7h4M1688 472.9h4M1688 506.1h4M1688 539.3h4M1688 571h4M1688 584h4M1688 727.7h4M1688 784.5h4M1688 835.5h4M1688 896.5h4"/>
</g>
<g class="t" font-size="9" fill="#000">
<text x="1693" y="145.1">25615.0</text>
<text x="1693" y="178.3">25139.0</text>
<text x="1693" y="211.5">24663.0</text>
<text x="1693" y="244.7">24187.0</text>
<text x="1693" y="277.9">23711.0</text>
<text x="1693" y="311.1">23235.0</text>
<text x="1693" y="343.3">22773.0</text>
<text x="1693" y="376.5">22297.0</text>
<text x="1693" y="409.7">21821.0</text>
<text x="1693" y="443">21345.0</text>
<text x="1693" y="476.2">20869.0</text>
<text x="1693" y="509.4">20393.0</text>
<text x="1693" y="542.6">19917.0</text>
<text x="1693" y="574">19455.0</text>
<text x="1693" y="112">26091.0</text>
<text x="1693" y="587.5">857.58</text>
<text x="1693" y="731">0.00</text>
<text x="1693" y="744">-106.8</text>
<text x="1693" y="759">100</text>
<text x="1693" y="787.8">80</text>
<text x="1693" y="839">50</text>
<text x="1693" y="900">15</text>
<text x="1693" y="919">0</text>
</g>
<rect x="1689" y="42" width="43" height="11" fill="#ff0000"/>
<rect x="1689" y="57" width="43" height="11" fill="#ff0000"/>
<rect x="1689" y="73" width="43" height="11" fill="#32cd32"/>
<rect x="1689" y="84.5" width="43" height="10.5" fill="#000"/>
<rect x="1689" y="100" width="43" height="11" fill="#0000ff"/>
<rect x="1689" y="117" width="43" height="11" fill="#0000ff"/>
<g class="t" font-size="9" fill="#fff">
<text x="1693" y="50.8">26967.9</text>
<text x="1693" y="65.8">26752.6</text>
<text x="1693" y="81.8">26523.2</text>
<text x="1693" y="93">26375.0</text>
<text x="1693" y="108.8">26135.4</text>
<text x="1693" y="125.8">25892.5</text>
</g>

<!-- x axis -->
<path stroke="#000" stroke-width="1" d="M62.5 921.5v5M126.5 921.5v5M190.5 921.5v5M254.5 921.5v5M318.5 921.5v5M382.5 921.5v5M446.5 921.5v5M510.5 921.5v5M574.5 921.5v5M638.5 921.5v5M702.5 921.5v5M766.5 921.5v5M830.5 921.5v5M894.5 921.5v5M958.5 921.5v5M1022.5 921.5v5M1086.5 921.5v5M1150.5 921.5v5M1214.5 921.5v5M1278.5 921.5v5M1342.5 921.5v5M1406.5 921.5v5"/>
<g class="t" font-size="9.4" fill="#000">
<text x="-1" y="936">11 May 2020</text>
<text x="63" y="936">20 May 2020</text>
<text x="127" y="936">29 May 2020</text>
<text x="191" y="936">8 Jun 2020</text>
<text x="255" y="936">17 Jun 2020</text>
<text x="319" y="936">26 Jun 2020</text>
<text x="383" y="936">6 Jul 2020</text>
<text x="447" y="936">15 Jul 2020</text>
<text x="511" y="936">24 Jul 2020</text>
<text x="575" y="936">3 Aug 2020</text>
<text x="639" y="936">12 Aug 2020</text>
<text x="703" y="936">21 Aug 2020</text>
<text x="767" y="936">31 Aug 2020</text>
<text x="831" y="936">9 Sep 2020</text>
<text x="895" y="936">18 Sep 2020</text>
<text x="959" y="936">28 Sep 2020</text>
<text x="1023" y="936">7 Oct 2020</text>
<text x="1087" y="936">16 Oct 2020</text>
<text x="1151" y="936">26 Oct 2020</text>
<text x="1215" y="936">4 Nov 2020</text>
<text x="1279" y="936">13 Nov 2020</text>
<text x="1343" y="936">23 Nov 2020</text>
<text x="1407" y="936">2 Dec 2020</text>
</g>
</svg>
</body></html>
